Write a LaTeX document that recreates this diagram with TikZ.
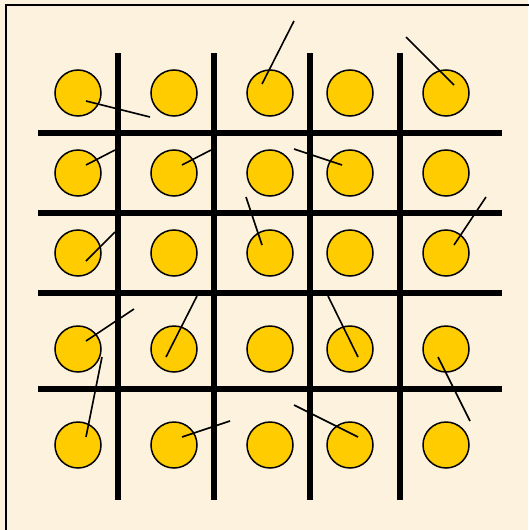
\documentclass[tikz,border=0pt]{standalone}
\usetikzlibrary{positioning}
\definecolor{paper}{RGB}{252,242,222}
\definecolor{disc}{RGB}{255,204,0}

\begin{document}
\begin{tikzpicture}[
    x=1pt, y=-1pt,
    dot/.style={circle, draw, line width=1.5pt, fill=disc, minimum size=46pt,
      inner sep=0pt},
    bar/.style={line width=5.5pt},
    stick/.style={line width=1.6pt}
  ]
    \fill[paper] (0,0) rectangle (528,530);
    \useasboundingbox (0,0) rectangle (528,530);
    \draw[line width=1.5pt] (6,540) -- (6,5) -- (540,5);
    \foreach \x in {118,214,310,400}
      \draw[bar] (\x,53) -- (\x,500);
    \foreach \y in {133,213,293,389}
      \draw[bar] (38,\y) -- (502,\y);
    \foreach \x [count=\i] in {78,174,270,350,446}
      \foreach \y [count=\j] in {93,173,253,349,445}
        \node[dot] (c\j\i) at (\x,\y) {};
    \draw[stick] (86,101) -- (150,117);
    \draw[stick] (262,84) -- (294,21);
    \draw[stick] (454,85) -- (406,37);
    \draw[stick] (86,165) -- (115,150);
    \draw[stick] (182,165) -- (211,150);
    \draw[stick] (342,165) -- (294,149);
    \draw[stick] (86,261) -- (115,232);
    \draw[stick] (262,245) -- (246,197);
    \draw[stick] (454,245) -- (486,197);
    \draw[stick] (86,341) -- (134,309);
    \draw[stick] (166,357) -- (197,296);
    \draw[stick] (358,357) -- (328,296);
    \draw[stick] (438,357) -- (470,421);
    \draw[stick] (86,437) -- (102,357);
    \draw[stick] (182,437) -- (230,421);
    \draw[stick] (358,437) -- (294,405);
\end{tikzpicture}
\end{document}
